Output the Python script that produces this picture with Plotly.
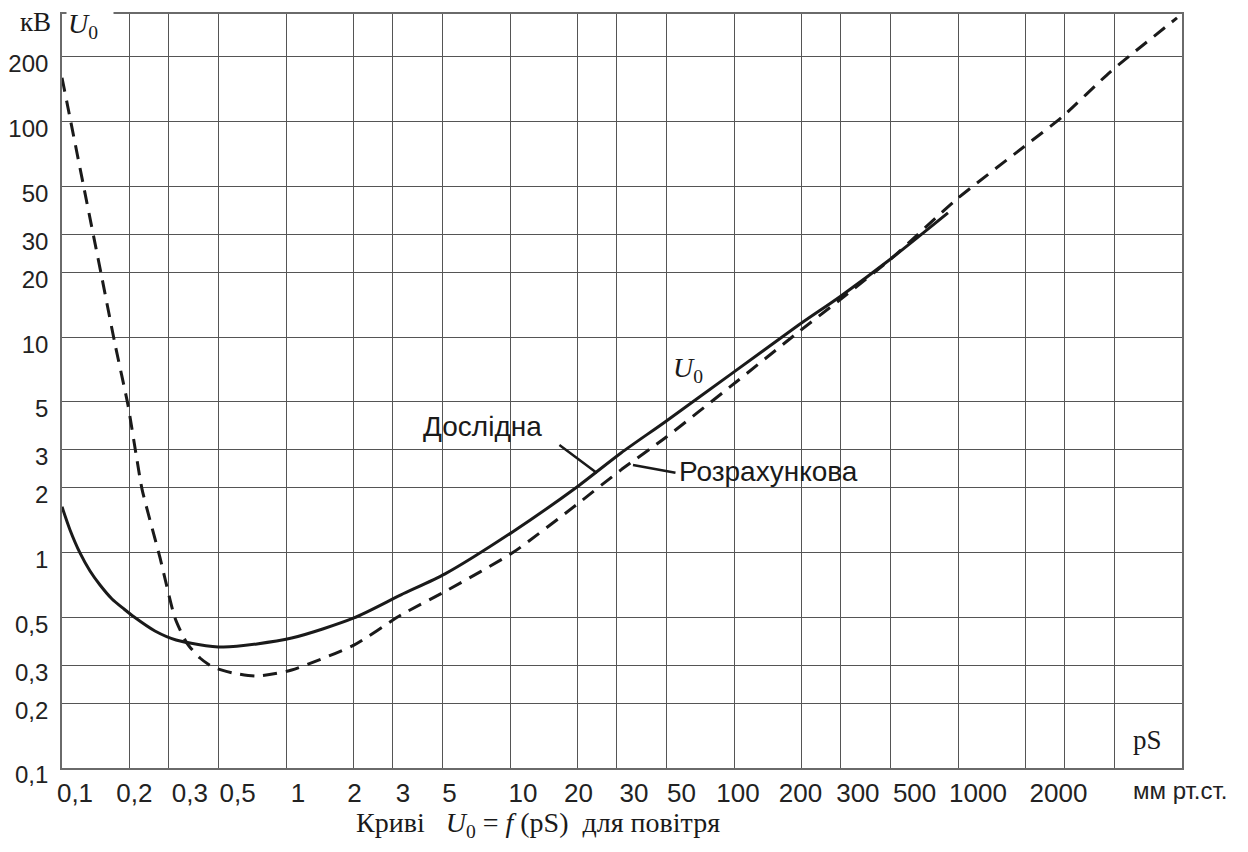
import math
import plotly.graph_objects as go

# ---------------- data ----------------
# experimental curve "Дослідна" (solid)
ps_exp = [0.1, 0.1086, 0.1203, 0.1334, 0.1478, 0.1672, 0.1891, 0.21, 0.26, 0.323, 0.523, 1.06, 2.01,
          3.26, 5.13, 10.3, 19.7, 31.3, 49.2, 95.9, 195, 297, 507, 902]
u_exp = [1.63, 1.273, 0.996, 0.821, 0.707, 0.609, 0.547, 0.502, 0.4325, 0.393, 0.364, 0.401, 0.497,
         0.636, 0.796, 1.25, 2.0, 2.90, 4.04, 6.68, 11.4, 15.4, 23.3, 37.7]

# calculated curve "Розрахункова" (dashed)
ps_calc = [0.1, 0.1095, 0.1243, 0.1395, 0.1505, 0.1724, 0.197, 0.214, 0.2276, 0.274, 0.3195, 0.361, 0.413,
           0.472, 0.58, 0.742, 1.06, 2.01, 3.26, 5.13, 10.3, 19.7, 31.3, 49.2, 95.9, 195, 297, 507,
           980, 1970, 2912, 4775, 9500]
u_calc = [160, 99.7, 51.4, 28.2, 19.0, 9.29, 4.84, 2.87, 1.97, 0.944, 0.497, 0.380, 0.324,
          0.294, 0.276, 0.267, 0.285, 0.372, 0.513, 0.66, 1.0, 1.66, 2.42, 3.40, 5.87, 10.6, 14.9, 23.3,
          43.4, 76.5, 105, 170, 303]

# axis ticks / grid
x_grid_vals = [0.1, 0.2, 0.3, 0.5, 1, 2, 3, 5, 10, 20, 30, 50, 100, 200, 300, 500, 1000, 2000, 3000, 5000]
x_label_vals = [0.1, 0.2, 0.3, 0.5, 1, 2, 3, 5, 10, 20, 30, 50, 100, 200, 300, 500, 1000, 2000]
x_label_text = ["0,1", "0,2", "0,3", "0,5", "1", "2", "3", "5", "10", "20", "30", "50", "100", "200",
                "300", "500", "1000", "2000"]
y_tick_vals = [0.1, 0.2, 0.3, 0.5, 1, 2, 3, 5, 10, 20, 30, 50, 100, 200]
y_tick_text = ["0,1", "0,2", "0,3", "0,5", "1", "2", "3", "5", "10", "20", "30", "50", "100", "200"]

x_range_vals = [0.1, 10000]
y_range_vals = [0.1, 316]

# ---------------- layout / style ----------------
# horizontal offsets (px) of the x tick labels from their grid line, as printed in the original
x_label_shift_px = [13, 5, 21, 19, 12, 1, 10, 7, 13, 1, 17, 15, 4, -1, 17, 24, 20, 33]
PLOT_W = 1120
px_per_decade = PLOT_W / (math.log10(x_range_vals[1]) - math.log10(x_range_vals[0]))
x_label_pos = [v * 10 ** (s / px_per_decade) for v, s in zip(x_label_vals, x_label_shift_px)]

SANS = "Liberation Sans, Arial, sans-serif"
SERIF = "Liberation Serif, Times New Roman, serif"
INK = "#1a1a1a"

fig = go.Figure()
fig.add_trace(go.Scatter(
    x=ps_exp, y=u_exp, mode="lines", name="Дослідна",
    line=dict(color=INK, width=3, shape="spline", smoothing=0.7),
))
fig.add_trace(go.Scatter(
    x=ps_calc, y=u_calc, mode="lines", name="Розрахункова",
    line=dict(color=INK, width=3, dash="14px,9px", shape="spline", smoothing=0.6),
))
# carrier trace for the label axis
fig.add_trace(go.Scatter(x=[None], y=[None], xaxis="x2", yaxis="y", mode="lines",
                         showlegend=False, hoverinfo="skip"))

frame = dict(showline=True, linecolor="#6a6a6a", linewidth=1.6, mirror=True, automargin=False)

fig.update_layout(
    xaxis=dict(type="log", range=[math.log10(v) for v in x_range_vals],
               tickmode="array", tickvals=x_grid_vals, showticklabels=False, ticks="",
               showgrid=True, gridcolor="#555555", gridwidth=1.3, **frame),
    xaxis2=dict(type="log", range=[math.log10(v) for v in x_range_vals], overlaying="x",
                anchor="y", side="bottom", showgrid=False, showline=False, zeroline=False,
                tickmode="array", tickvals=x_label_pos, ticktext=x_label_text, tickangle=0,
                ticks="", tickfont=dict(family=SANS, size=26, color="#222"),
                ticklabelstandoff=7, automargin=False),
    yaxis=dict(type="log", range=[math.log10(v) for v in y_range_vals],
               tickmode="array", tickvals=y_tick_vals, ticktext=y_tick_text, ticks="",
               tickfont=dict(family=SANS, size=24, color="#222"), ticklabelshift=7, ticklabelstandoff=7,
               showgrid=True, gridcolor="#555555", gridwidth=1.3, **frame),
)

annos = [
    # unit and axis name at top left
    dict(xref="paper", yref="paper", x=-0.008, y=0.989, text="кВ", showarrow=False,
         xanchor="right", yanchor="middle", font=dict(family=SERIF, size=27, color=INK)),
    dict(xref="paper", yref="paper", x=0.004, y=0.985, text="<i>U</i><sub>0</sub>", showarrow=False,
         xanchor="left", yanchor="middle", bgcolor="white", width=44, align="left",
         font=dict(family=SERIF, size=28, color=INK)),
    # pS label inside plot
    dict(xref="paper", yref="paper", x=0.969, y=0.037, text="pS", showarrow=False,
         xanchor="center", yanchor="middle", font=dict(family=SERIF, size=27, color=INK)),
    # unit of x axis
    dict(xref="paper", yref="paper", x=0.999, y=-0.030, text="мм рт.ст.", showarrow=False,
         xanchor="center", yanchor="middle", font=dict(family=SANS, size=24, color="#222")),
    # caption
    dict(xref="paper", yref="paper", x=0.425, y=-0.075,
         text="Криві&nbsp;&nbsp;&nbsp;<i>U</i><sub>0</sub>&nbsp;=&nbsp;<i>f</i>&nbsp;(pS)&nbsp;&nbsp;для повітря",
         showarrow=False, xanchor="center", yanchor="middle", font=dict(family=SERIF, size=28, color=INK)),
    # curve labels
    dict(x=1.795, y=0.85, text="<i>U</i><sub>0</sub>", showarrow=False,
         xanchor="center", yanchor="middle", font=dict(family=SERIF, size=28, color=INK)),
    dict(x=0.875, y=0.585, text="Дослідна", showarrow=False,
         xanchor="center", yanchor="middle", font=dict(family=SANS, size=28, color=INK)),
    dict(x=1.745, y=0.378, text="Розрахункова", showarrow=False,
         xanchor="left", yanchor="middle", font=dict(family=SANS, size=28, color=INK)),
    # leader lines
    dict(x=1.388, y=0.3695, text="", showarrow=True, arrowhead=0, arrowwidth=2.5, arrowcolor=INK,
         ax=-39, ay=-29, standoff=0, startstandoff=0),
    dict(x=1.549, y=0.4067, text="", showarrow=True, arrowhead=0, arrowwidth=2.5, arrowcolor=INK,
         ax=44, ay=8, standoff=0, startstandoff=0),
]

# the page adds an 8px body margin, so the figure is sized to land on the same pixels
fig.update_layout(
    width=1232, height=836,
    margin=dict(l=54, r=58, t=6, b=76),
    paper_bgcolor="white", plot_bgcolor="white",
    showlegend=False,
    annotations=annos,
)

fig.write_html("out.html")
